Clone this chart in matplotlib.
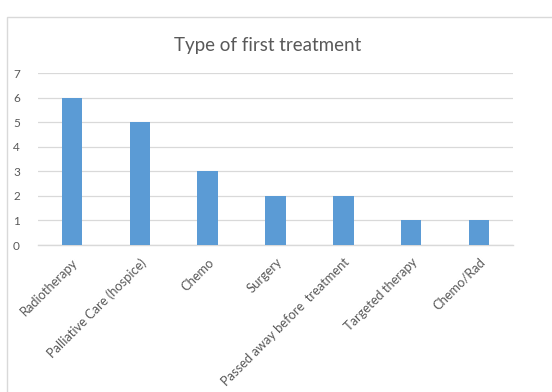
import matplotlib
matplotlib.use('Agg')
import matplotlib.pyplot as plt
from matplotlib.patches import Rectangle

categories = ['Radiotherapy', 'Palliative Care (hospice)', 'Chemo', 'Surgery',
              'Passed away before  treatment', 'Targeted therapy', 'Chemo/Rad']
counts = [6, 5, 3, 2, 2, 1, 1]
yticks = [0, 1, 2, 3, 4, 5, 6, 7]

plt.rcParams['font.family'] = ['Lato', 'DejaVu Sans']
text_grey = '#595959'

W, H = 552, 392
fig = plt.figure(figsize=(W / 100, H / 100), dpi=100)

# chart frame, kept behind the axes
fig.patches.append(Rectangle((7 / W, -0.1), 1.2, 1 - 17 / H + 0.1,
                             transform=fig.transFigure, facecolor='white',
                             edgecolor='#d9d9d9', linewidth=1.0, zorder=-1))

ax = fig.add_axes([38 / W, 1 - 245 / H, (513 - 38) / W, (245 - 73) / H])
ax.set_facecolor('none')
x = list(range(len(categories)))
ax.bar(x, counts, width=0.3, color='#5b9bd5', zorder=3)
ax.set_xlim(-0.5, len(categories) - 0.5)
ax.set_ylim(0, 7)
ax.set_yticks(yticks)
ax.set_yticklabels([str(v) for v in yticks], fontsize=8.5, color=text_grey)
ax.set_xticks(x)
ax.set_xticklabels(categories, rotation=45, ha='right', rotation_mode='anchor',
                   fontsize=9.3, color=text_grey)
ax.tick_params(axis='both', length=0)
ax.tick_params(axis='y', pad=13)
ax.tick_params(axis='x', pad=8)
ax.grid(axis='y', color='#d9d9d9', linewidth=0.9, zorder=0)
for side in ['top', 'right', 'left']:
    ax.spines[side].set_visible(False)
ax.spines['bottom'].set_color('#d9d9d9')
ax.spines['bottom'].set_linewidth(1.0)

fig.text((175 + 361) / 2 / W, 1 - 45 / H, 'Type of first treatment',
         ha='center', va='center', fontsize=13.5, color=text_grey)

fig.savefig('out.png', dpi=100)
